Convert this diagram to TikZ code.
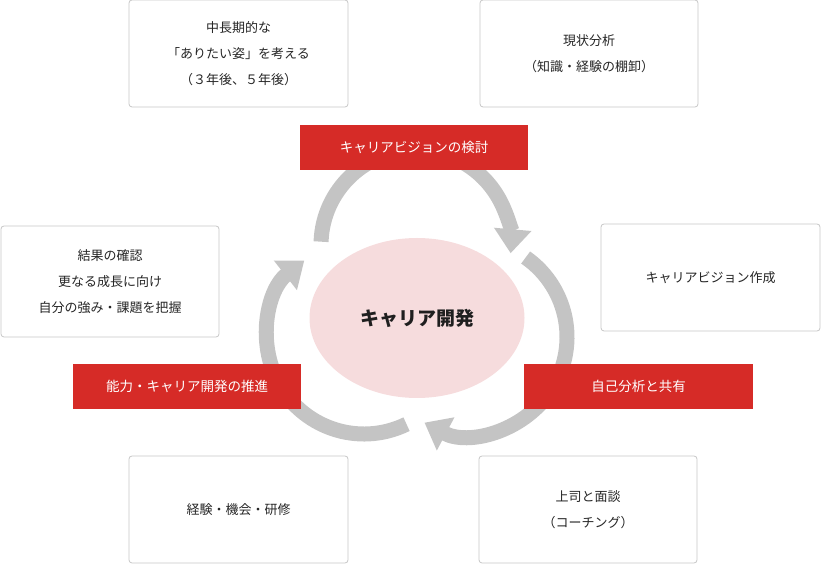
\documentclass[tikz,border=0pt]{standalone}
\usepackage{fontspec}
\setmainfont{Noto Sans CJK JP}
\usetikzlibrary{arrows.meta,shapes.geometric}
\definecolor{myred}{HTML}{D62B27}
\definecolor{ring}{HTML}{C4C4C4}
\definecolor{pinkfill}{HTML}{F6DCDD}
\tikzset{
  wbox/.style={draw=black!22,line width=0.8pt,fill=white,rounded corners=3pt,align=center,font=\fontsize{13}{26}\selectfont,text=black!85},
  rbox/.style={fill=myred,text=white,font=\fontsize{13.5}{16}\selectfont,align=center},
  ringarc/.style={draw=ring,line width=15pt,-{Triangle[width=36pt,length=24pt]}}
}
\begin{document}
\begin{tikzpicture}[x=1pt,y=1pt]
\useasboundingbox (0,0) rectangle (821,564);
\coordinate (ct) at (416,319);
\coordinate (cr) at (470,227);
\coordinate (cl) at (364,227);
\draw[ringarc] (ct) ++(178:95) arc[start angle=178,end angle=-5,radius=95];
\draw[ringarc] (cr) ++(55:97) arc[start angle=55,end angle=-118,radius=97];
\draw[ringarc] (cl) ++(-64:97) arc[start angle=-64,end angle=-232,radius=97];
\node[fill=pinkfill,ellipse,minimum width=215,minimum height=160,inner sep=0] (core) at (417,246) {};
\node[font=\fontsize{19}{22}\selectfont\bfseries,text=black!88] (coret) at (core) {キャリア開発};
\node[wbox,minimum width=219,minimum height=107] (b1) at (238.5,510.5) {中長期的な\\「ありたい姿」を考える\\（３年後、５年後）};
\node[wbox,minimum width=218,minimum height=107] (b2) at (589,510.5) {現状分析\\（知識・経験の棚卸）};
\node[wbox,minimum width=218,minimum height=111] (b3) at (110,282.5) {結果の確認\\更なる成長に向け\\自分の強み・課題を把握};
\node[wbox,minimum width=219,minimum height=107] (b4) at (710.5,286.5) {キャリアビジョン作成};
\node[wbox,minimum width=219,minimum height=107] (b5) at (238.5,54.5) {経験・機会・研修};
\node[wbox,minimum width=218,minimum height=107] (b6) at (588,54.5) {上司と面談\\（コーチング）};
\node[rbox,minimum width=228,minimum height=45] (r1) at (414,416.5) {キャリアビジョンの検討};
\node[rbox,minimum width=228,minimum height=45] (r2) at (187,177.5) {能力・キャリア開発の推進};
\node[rbox,minimum width=229,minimum height=45] (r3) at (638.5,177.5) {自己分析と共有};
\end{tikzpicture}
\end{document}
